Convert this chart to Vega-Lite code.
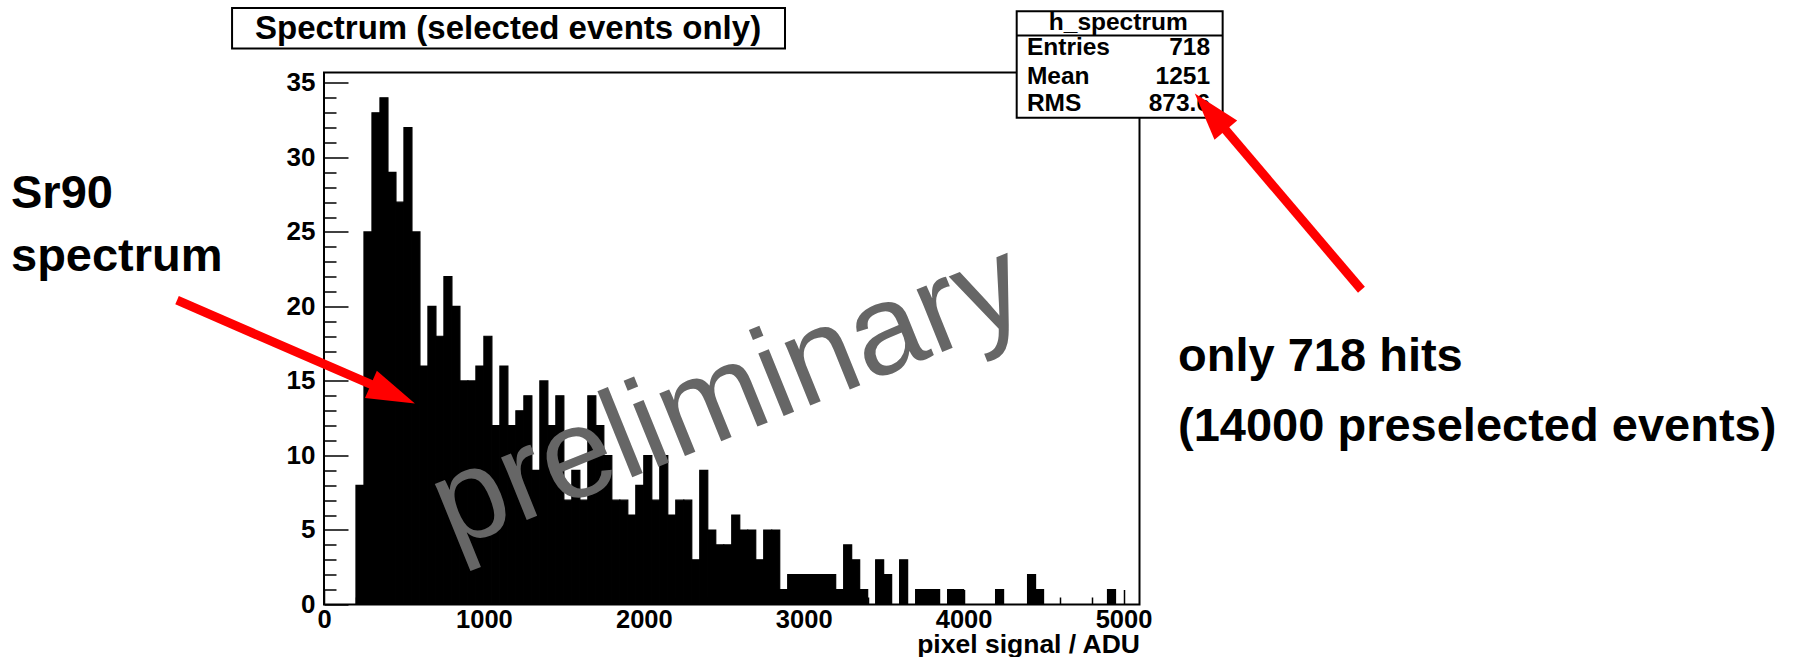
{
  "$schema": "https://vega.github.io/schema/vega-lite/v6.json",
  "width": 815.5,
  "height": 532,
  "autosize": {"type": "none"},
  "padding": {"left": 324, "top": 72.5, "right": 654.5, "bottom": 52.5},
  "background": "white",
  "config": {"view": {"stroke": "black", "strokeWidth": 2}, "font": "Liberation Sans"},
  "datasets": {
    "hist": [
      {"lo": 200, "hi": 250, "n": 8}, {"lo": 250, "hi": 300, "n": 25}, {"lo": 300, "hi": 350, "n": 33}, {"lo": 350, "hi": 400, "n": 34},
      {"lo": 400, "hi": 450, "n": 29}, {"lo": 450, "hi": 500, "n": 27}, {"lo": 500, "hi": 550, "n": 32}, {"lo": 550, "hi": 600, "n": 25},
      {"lo": 600, "hi": 650, "n": 16}, {"lo": 650, "hi": 700, "n": 20}, {"lo": 700, "hi": 750, "n": 18}, {"lo": 750, "hi": 800, "n": 22},
      {"lo": 800, "hi": 850, "n": 20}, {"lo": 850, "hi": 900, "n": 15}, {"lo": 900, "hi": 950, "n": 15}, {"lo": 950, "hi": 1000, "n": 16},
      {"lo": 1000, "hi": 1050, "n": 18}, {"lo": 1050, "hi": 1100, "n": 12}, {"lo": 1100, "hi": 1150, "n": 16}, {"lo": 1150, "hi": 1200, "n": 12},
      {"lo": 1200, "hi": 1250, "n": 13}, {"lo": 1250, "hi": 1300, "n": 14}, {"lo": 1300, "hi": 1350, "n": 9}, {"lo": 1350, "hi": 1400, "n": 15},
      {"lo": 1400, "hi": 1450, "n": 12}, {"lo": 1450, "hi": 1500, "n": 14}, {"lo": 1500, "hi": 1550, "n": 7}, {"lo": 1550, "hi": 1600, "n": 9},
      {"lo": 1600, "hi": 1650, "n": 7}, {"lo": 1650, "hi": 1700, "n": 14}, {"lo": 1700, "hi": 1750, "n": 12}, {"lo": 1750, "hi": 1800, "n": 10},
      {"lo": 1800, "hi": 1850, "n": 7}, {"lo": 1850, "hi": 1900, "n": 7}, {"lo": 1900, "hi": 1950, "n": 6}, {"lo": 1950, "hi": 2000, "n": 8},
      {"lo": 2000, "hi": 2050, "n": 10}, {"lo": 2050, "hi": 2100, "n": 7}, {"lo": 2100, "hi": 2150, "n": 10}, {"lo": 2150, "hi": 2200, "n": 6},
      {"lo": 2200, "hi": 2250, "n": 7}, {"lo": 2250, "hi": 2300, "n": 7}, {"lo": 2300, "hi": 2350, "n": 3}, {"lo": 2350, "hi": 2400, "n": 9},
      {"lo": 2400, "hi": 2450, "n": 5}, {"lo": 2450, "hi": 2500, "n": 4}, {"lo": 2500, "hi": 2550, "n": 4}, {"lo": 2550, "hi": 2600, "n": 6},
      {"lo": 2600, "hi": 2650, "n": 5}, {"lo": 2650, "hi": 2700, "n": 5}, {"lo": 2700, "hi": 2750, "n": 3}, {"lo": 2750, "hi": 2800, "n": 5},
      {"lo": 2800, "hi": 2850, "n": 5}, {"lo": 2850, "hi": 2900, "n": 1}, {"lo": 2900, "hi": 2950, "n": 2}, {"lo": 2950, "hi": 3000, "n": 2},
      {"lo": 3000, "hi": 3050, "n": 2}, {"lo": 3050, "hi": 3100, "n": 2}, {"lo": 3100, "hi": 3150, "n": 2}, {"lo": 3150, "hi": 3200, "n": 2},
      {"lo": 3200, "hi": 3250, "n": 1}, {"lo": 3250, "hi": 3300, "n": 4}, {"lo": 3300, "hi": 3350, "n": 3}, {"lo": 3350, "hi": 3400, "n": 1},
      {"lo": 3450, "hi": 3500, "n": 3}, {"lo": 3500, "hi": 3550, "n": 2}, {"lo": 3600, "hi": 3650, "n": 3},
      {"lo": 3700, "hi": 3750, "n": 1}, {"lo": 3750, "hi": 3800, "n": 1}, {"lo": 3800, "hi": 3850, "n": 1},
      {"lo": 3900, "hi": 3950, "n": 1}, {"lo": 3950, "hi": 4000, "n": 1}, {"lo": 4200, "hi": 4250, "n": 1},
      {"lo": 4400, "hi": 4450, "n": 2}, {"lo": 4450, "hi": 4500, "n": 1}, {"lo": 4900, "hi": 4950, "n": 1}
    ],
    "one": [{}]
  },
  "layer": [
    {
      "data": {"name": "hist"},
      "mark": {"type": "rect", "color": "black", "stroke": "black", "strokeWidth": 1.2},
      "encoding": {
        "x": {"field": "lo", "type": "quantitative", "scale": {"domain": [0, 5100], "nice": false, "zero": false},
              "axis": {"orient": "bottom", "values": [0, 1000, 2000, 3000, 4000, 5000], "format": "d", "ticks": false, "domain": false, "grid": false,
                       "labelFont": "Liberation Sans", "labelFontWeight": "bold", "labelFontSize": 25.5, "labelColor": "black",
                       "labelPadding": 3, "labelFlush": false, "labelOverlap": false,
                       "title": "pixel signal / ADU", "titleFont": "Liberation Sans", "titleFontWeight": "bold", "titleFontSize": 26.5,
                       "titleColor": "black", "titleAnchor": "end", "titleAlign": "right", "titlePadding": -2}},
        "x2": {"field": "hi"},
        "y": {"field": "n", "type": "quantitative", "scale": {"domain": [0, 35.7], "nice": false, "zero": true},
              "axis": {"orient": "left", "values": [0, 5, 10, 15, 20, 25, 30, 35], "format": "d", "ticks": false, "domain": false, "grid": false,
                       "labelFont": "Liberation Sans", "labelFontWeight": "bold", "labelFontSize": 26, "labelColor": "black",
                       "labelPadding": 9, "labelFlush": false, "labelOverlap": false, "title": null}},
        "y2": {"datum": 0}
      }
    },
    {
      "data": {"name": "one"},
      "mark": {"type": "point", "opacity": 0},
      "encoding": {
        "x": {"datum": 0, "type": "quantitative", "scale": {"domain": [0, 5100], "nice": false, "zero": false},
              "axis": {"orient": "bottom", "values": [0, 1000, 2000, 3000, 4000, 5000], "labels": false, "domain": false, "grid": false, "tickSize": -15, "tickColor": "black", "tickWidth": 1.5, "title": null}},
        "y": {"datum": 0, "type": "quantitative", "scale": {"domain": [0, 35.7], "nice": false},
              "axis": {"orient": "left", "values": [0, 5, 10, 15, 20, 25, 30, 35], "labels": false, "domain": false, "grid": false, "tickSize": -24, "tickColor": "black", "tickWidth": 1.5, "title": null}}
      }
    },
    {
      "data": {"name": "one"},
      "mark": {"type": "point", "opacity": 0},
      "encoding": {
        "x": {"datum": 0, "type": "quantitative", "scale": {"domain": [0, 5100], "nice": false, "zero": false},
              "axis": {"orient": "bottom", "values": [200, 400, 600, 800, 1200, 1400, 1600, 1800, 2200, 2400, 2600, 2800, 3200, 3400, 3600, 3800, 4200, 4400, 4600, 4800],
                       "labels": false, "domain": false, "grid": false, "tickSize": -7.5, "tickColor": "black", "tickWidth": 1.5, "title": null}},
        "y": {"datum": 0, "type": "quantitative", "scale": {"domain": [0, 35.7], "nice": false},
              "axis": {"orient": "left", "values": [1, 2, 3, 4, 6, 7, 8, 9, 11, 12, 13, 14, 16, 17, 18, 19, 21, 22, 23, 24, 26, 27, 28, 29, 31, 32, 33, 34],
                       "labels": false, "domain": false, "grid": false, "tickSize": -12, "tickColor": "black", "tickWidth": 1.5, "title": null}}
      }
    },
    {
      "data": {"name": "one"},
      "mark": {"type": "text", "text": "preliminary", "font": "Liberation Sans", "fontSize": 128, "color": "#666666", "angle": 338, "align": "center", "baseline": "middle"},
      "encoding": {
        "x": {"datum": 2530, "type": "quantitative", "scale": {"domain": [0, 5100], "nice": false, "zero": false}, "axis": null},
        "y": {"datum": 13.9, "type": "quantitative", "scale": {"domain": [0, 35.7], "nice": false}, "axis": null}
      }
    },
    {
      "data": {"name": "one"},
      "mark": {"type": "rect", "fill": "white", "stroke": "black", "strokeWidth": 2},
      "encoding": {
        "x": {"datum": -575, "type": "quantitative", "scale": {"domain": [0, 5100], "nice": false, "zero": false}, "axis": null},
        "x2": {"datum": 2883},
        "y": {"datum": 40.03, "type": "quantitative", "scale": {"domain": [0, 35.7], "nice": false}, "axis": null},
        "y2": {"datum": 37.31}
      }
    },
    {
      "data": {"name": "one"},
      "mark": {"type": "text", "text": "Spectrum (selected events only)", "font": "Liberation Sans", "fontWeight": "bold", "fontSize": 33, "color": "black", "align": "center", "baseline": "alphabetic"},
      "encoding": {
        "x": {"datum": 1151, "type": "quantitative", "scale": {"domain": [0, 5100], "nice": false, "zero": false}, "axis": null},
        "y": {"datum": 37.92, "type": "quantitative", "scale": {"domain": [0, 35.7], "nice": false}, "axis": null}
      }
    },
    {
      "data": {"name": "one"},
      "mark": {"type": "rect", "fill": "white", "stroke": "black", "strokeWidth": 2},
      "encoding": {
        "x": {"datum": 4332, "type": "quantitative", "scale": {"domain": [0, 5100], "nice": false, "zero": false}, "axis": null},
        "x2": {"datum": 5620},
        "y": {"datum": 39.81, "type": "quantitative", "scale": {"domain": [0, 35.7], "nice": false}, "axis": null},
        "y2": {"datum": 32.67}
      }
    },
    {
      "data": {"name": "one"},
      "mark": {"type": "rule", "color": "black", "strokeWidth": 2},
      "encoding": {
        "x": {"datum": 4332, "type": "quantitative", "scale": {"domain": [0, 5100], "nice": false, "zero": false}, "axis": null},
        "x2": {"datum": 5620},
        "y": {"datum": 38.19, "type": "quantitative", "scale": {"domain": [0, 35.7], "nice": false}, "axis": null}
      }
    },
    {
      "data": {"name": "one"},
      "mark": {"type": "text", "text": "h_spectrum", "font": "Liberation Sans", "fontWeight": "bold", "fontSize": 24.5, "color": "black", "align": "center", "baseline": "alphabetic"},
      "encoding": {
        "x": {"datum": 4967, "type": "quantitative", "scale": {"domain": [0, 5100], "nice": false, "zero": false}, "axis": null},
        "y": {"datum": 38.52, "type": "quantitative", "scale": {"domain": [0, 35.7], "nice": false}, "axis": null}
      }
    },
    {
      "data": {"values": [{"k": "Entries", "v": "718", "row": 36.85}, {"k": "Mean", "v": "1251", "row": 34.95}, {"k": "RMS", "v": "873.6", "row": 33.14}]},
      "mark": {"type": "text", "font": "Liberation Sans", "fontWeight": "bold", "fontSize": 24.5, "color": "black", "align": "left", "baseline": "alphabetic"},
      "encoding": {
        "x": {"datum": 4396, "type": "quantitative", "scale": {"domain": [0, 5100], "nice": false, "zero": false}, "axis": null},
        "y": {"field": "row", "type": "quantitative", "scale": {"domain": [0, 35.7], "nice": false}, "axis": null},
        "text": {"field": "k"}
      }
    },
    {
      "data": {"values": [{"k": "Entries", "v": "718", "row": 36.85}, {"k": "Mean", "v": "1251", "row": 34.95}, {"k": "RMS", "v": "873.6", "row": 33.14}]},
      "mark": {"type": "text", "font": "Liberation Sans", "fontWeight": "bold", "fontSize": 24.5, "color": "black", "align": "right", "baseline": "alphabetic"},
      "encoding": {
        "x": {"datum": 5541, "type": "quantitative", "scale": {"domain": [0, 5100], "nice": false, "zero": false}, "axis": null},
        "y": {"field": "row", "type": "quantitative", "scale": {"domain": [0, 35.7], "nice": false}, "axis": null},
        "text": {"field": "v"}
      }
    },
    {
      "data": {"values": [
        {"t": "Sr90", "px": -1957.5, "py": 26.6},
        {"t": "spectrum", "px": -1957.5, "py": 22.36},
        {"t": "only 718 hits", "px": 5341, "py": 15.7},
        {"t": "(14000 preselected events)", "px": 5341, "py": 11.0}
      ]},
      "mark": {"type": "text", "font": "Liberation Sans", "fontWeight": "bold", "fontSize": 47, "color": "black", "align": "left", "baseline": "alphabetic"},
      "encoding": {
        "x": {"field": "px", "type": "quantitative", "scale": {"domain": [0, 5100], "nice": false, "zero": false}, "axis": null},
        "y": {"field": "py", "type": "quantitative", "scale": {"domain": [0, 35.7], "nice": false}, "axis": null},
        "text": {"field": "t"}
      }
    },
    {
      "data": {"values": [{"x0": -919, "y0": 20.42, "x1": 431, "y1": 14.13}, {"x0": 6488, "y0": 21.12, "x1": 5543, "y1": 33.06}]},
      "mark": {"type": "rule", "color": "#ff0000", "strokeWidth": 9},
      "encoding": {
        "x": {"field": "x0", "type": "quantitative", "scale": {"domain": [0, 5100], "nice": false, "zero": false}, "axis": null},
        "y": {"field": "y0", "type": "quantitative", "scale": {"domain": [0, 35.7], "nice": false}, "axis": null},
        "x2": {"field": "x1"},
        "y2": {"field": "y1"}
      }
    },
    {
      "data": {"values": [{"x1": 431, "y1": 14.13, "ang": 113.5}, {"x1": 5543, "y1": 33.06, "ang": 319.7}]},
      "mark": {"type": "point", "shape": "M0,-1L0.62,1L-0.62,1Z", "filled": true, "color": "#ff0000", "opacity": 1, "size": 2300},
      "encoding": {
        "x": {"field": "x1", "type": "quantitative", "scale": {"domain": [0, 5100], "nice": false, "zero": false}, "axis": null},
        "y": {"field": "y1", "type": "quantitative", "scale": {"domain": [0, 35.7], "nice": false}, "axis": null},
        "angle": {"field": "ang", "type": "quantitative", "scale": null}
      }
    }
  ],
  "resolve": {"axis": {"x": "independent", "y": "independent"}}
}
